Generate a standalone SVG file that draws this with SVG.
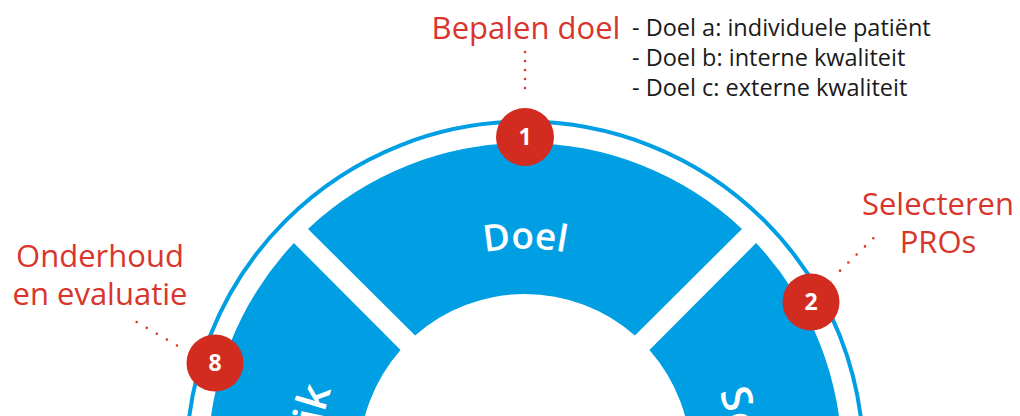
<svg xmlns="http://www.w3.org/2000/svg" width="1020" height="416" viewBox="0 0 1020 416">
<style>
.lbl{font-family:"Open Sans","Noto Sans",sans-serif;font-size:31px;fill:#d8362c;text-anchor:middle}
.desc{font-family:"Open Sans","Noto Sans",sans-serif;font-size:23.5px;fill:#1a1a1a}
.seg{fill:#009fe3}
.segtxt{font-family:"Open Sans","Noto Sans",sans-serif;font-weight:600;fill:#ffffff}
.badge circle{fill:#d22b1f}
.badge text{font-family:"Open Sans","Noto Sans",sans-serif;font-weight:700;font-size:23px;fill:#ffffff;text-anchor:middle}
.dots{fill:none;stroke:#d8362c;stroke-width:2.6;stroke-linecap:round}
</style>
<defs>
<path id="arcDoel" d="M341.84,354.25 A211.5,211.5 0 0 1 708.16,354.25"/>
<path id="arcSe" d="M719.30,391.58 A206,206 0 0 1 628,638.40"/>
<path id="arcIk" d="M346.60,563 A206,206 0 0 1 331.42,389.54"/>
</defs>
<rect width="1020" height="416" fill="#ffffff"/>
<g id="ring">
<circle cx="525" cy="460" r="338.5" fill="none" stroke="#009fe3" stroke-width="4"/>
</g>
<g id="seg-doel">
<path class="seg" d="M308.0,228.92 A317,317 0 0 1 742.0,228.92 L634.88,335.57 A166,166 0 0 0 415.12,335.57 Z"/>
<text class="segtxt" font-size="37"><textPath href="#arcDoel" startOffset="50%" text-anchor="middle">Doel</textPath></text>
</g>
<g id="seg-2">
<path class="seg" d="M756.08,243.0 A317,317 0 0 1 756.08,677.0 L649.43,569.88 A166,166 0 0 0 649.43,350.12 Z"/>
<text class="segtxt" font-size="42"><textPath href="#arcSe" startOffset="0">Se</textPath></text>
</g>
<g id="seg-8">
<path class="seg" d="M293.92,677.0 A317,317 0 0 1 293.92,243.0 L400.57,350.12 A166,166 0 0 0 400.57,569.88 Z"/>
<text class="segtxt" font-size="42"><textPath href="#arcIk" startOffset="100%" text-anchor="end">ik</textPath></text>
</g>
<g id="connectors">
<path class="dots" d="M525,52 V97" stroke-dasharray="0 9"/>
<path class="dots" d="M873.3,238.3 L840,270.7" stroke-dasharray="0 11.6"/>
<path class="dots" d="M136.7,322 L177,345.5" stroke-dasharray="0 11.65"/>
</g>
<g id="badge-1" class="badge">
<circle cx="525" cy="137" r="29"/>
<text x="525" y="145">1</text>
</g>
<g id="badge-2" class="badge">
<circle cx="811" cy="302" r="28.5"/>
<text x="811" y="310">2</text>
</g>
<g id="badge-8" class="badge">
<circle cx="215" cy="363" r="28.5"/>
<text x="215" y="371">8</text>
</g>
<g id="label-1">
<text class="lbl" x="526" y="39">Bepalen doel</text>
<text class="desc" x="632" y="35.5">- Doel a: individuele patiënt</text>
<text class="desc" x="632" y="65.5">- Doel b: interne kwaliteit</text>
<text class="desc" x="632" y="95.5">- Doel c: externe kwaliteit</text>
</g>
<g id="label-2">
<text class="lbl" x="938" y="215">Selecteren</text>
<text class="lbl" x="938" y="253">PROs</text>
</g>
<g id="label-8">
<text class="lbl" x="100" y="266.5">Onderhoud</text>
<text class="lbl" x="100" y="305">en evaluatie</text>
</g>
</svg>
